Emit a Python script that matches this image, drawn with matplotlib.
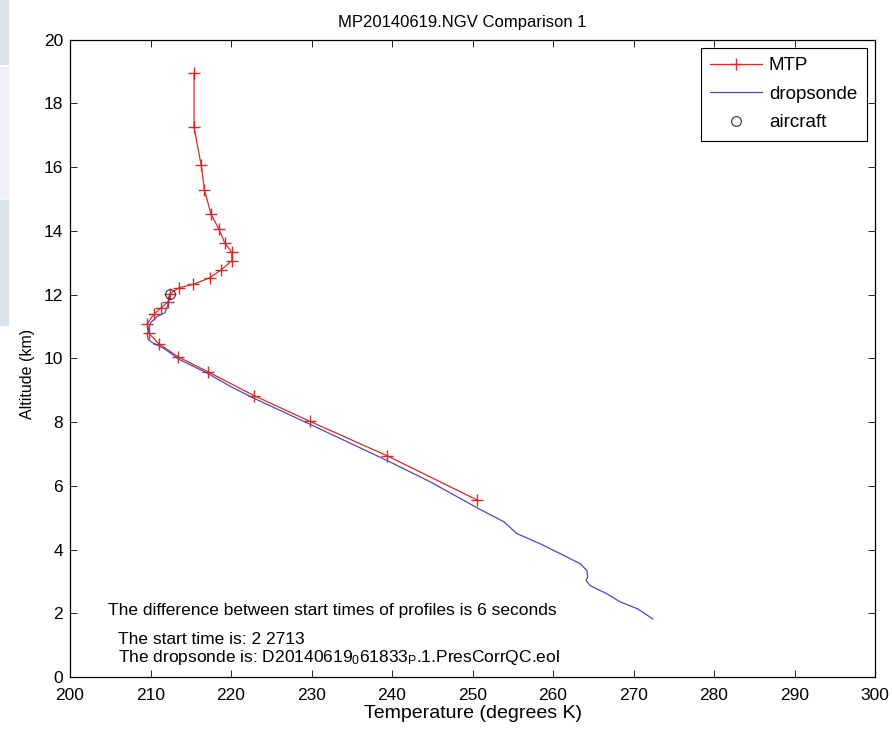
"""MTP vs dropsonde temperature profile comparison."""

import matplotlib.pyplot as plt
from matplotlib.patches import Rectangle

plt.rcParams["font.family"] = ["Liberation Sans", "DejaVu Sans"]
plt.rcParams["mathtext.fontset"] = "custom"
plt.rcParams["mathtext.rm"] = "Liberation Sans"
plt.rcParams["mathtext.it"] = "Liberation Sans"

# MTP retrieved profile (temperature K, altitude km)
mtp_temp = [215.4, 215.4, 216.3, 216.7, 217.5, 218.5, 219.2, 220.1, 220.1,
            218.7, 217.4, 215.3, 213.5, 212.4, 212.2, 211.3, 210.4, 209.6,
            209.8, 211.0, 213.4, 217.1, 222.85, 229.8, 239.4, 250.6]
mtp_alt = [18.94, 17.25, 16.05, 15.28, 14.53, 14.05, 13.63, 13.32, 13.06,
           12.76, 12.53, 12.32, 12.21, 12.02, 11.78, 11.58, 11.38, 11.08,
           10.78, 10.46, 10.05, 9.58, 8.83, 8.02, 6.94, 5.55]

# dropsonde profile
sonde_temp = [212.4, 212.3, 212.1, 211.8, 210.7, 210.0, 209.6, 209.7, 210.3,
              211.6, 213.6, 217.0, 219.9, 222.8, 229.8, 239.4, 244.7, 250.7,
              253.9, 255.5, 258.4, 260.9, 263.4, 264.2, 264.3, 264.1, 264.6,
              266.7, 268.4, 270.5, 272.4]
sonde_alt = [12.02, 11.85, 11.64, 11.43, 11.29, 11.11, 10.75, 10.59, 10.48,
             10.32, 9.96, 9.54, 9.12, 8.75, 7.93, 6.79, 6.13, 5.29,
             4.87, 4.50, 4.18, 3.87, 3.55, 3.34, 3.13, 3.03, 2.87,
             2.61, 2.35, 2.14, 1.82]

# aircraft position
aircraft_temp = [212.4]
aircraft_alt = [12.03]

title = "MP20140619.NGV Comparison 1"
notes = [
    (204.7, 2.08, "The difference between start times of profiles is 6 seconds"),
    (206.0, 1.17, "The start time is: 2 2713"),
    (206.0, 0.62,
     r"The dropsonde is: D20140619$_\mathrm{0}$61833$_\mathrm{P}$.1.PresCorrQC.eol"),
]

fig = plt.figure(figsize=(8.92, 7.29), dpi=100)
ax = fig.add_axes([0.0785, 0.0713, 0.9025, 0.8745])

# stray page panels at the left edge of the screenshot
for y0, y1, col in [(0, 64, "#dde3ec"), (67, 198, "#eef1f6"), (200, 325, "#dde3ec")]:
    fig.patches.append(Rectangle((0, 1 - y1 / 729), 8 / 892, (y1 - y0) / 729,
                                 transform=fig.transFigure, color=col, zorder=0))

ax.plot(mtp_temp, mtp_alt, color="#d42a2a", lw=0.9, marker="+", ms=9,
        mew=1.0, label="MTP")
ax.plot(sonde_temp, sonde_alt, color="#4a4ab4", lw=0.9, label="dropsonde")
ax.plot(aircraft_temp, aircraft_alt, ls="none", marker="o", ms=7,
        mfc="none", mec="#303030", mew=0.8, label="aircraft")

for x, y, s in notes:
    ax.text(x, y, s, fontsize=12.5, va="center", ha="left")

ax.set_xlim(200, 300)
ax.set_ylim(0, 20)
ax.set_xticks(range(200, 301, 10))
ax.set_yticks(range(0, 21, 2))
ax.tick_params(direction="in", top=True, right=True, length=5, width=0.6,
               labelsize=12.5)
ax.tick_params(axis="x", pad=8)
ax.tick_params(axis="y", pad=5)
for sp in ax.spines.values():
    sp.set_linewidth(0.9)
ax.set_title(title, fontsize=12, pad=9, x=0.4876)
ax.set_xlabel("Temperature (degrees K)", fontsize=14, labelpad=1)
ax.set_ylabel("Altitude (km)", fontsize=11.5)
ax.yaxis.set_label_coords(-0.044, 0.475)

leg = ax.legend(loc="upper right", fontsize=13.5, fancybox=False,
                edgecolor="black", framealpha=1, handlelength=2.8,
                borderaxespad=0.45, labelspacing=0.6, handletextpad=0.35,
                borderpad=0.5)
leg.get_frame().set_linewidth(0.8)

fig.savefig("out.png", dpi=100)
